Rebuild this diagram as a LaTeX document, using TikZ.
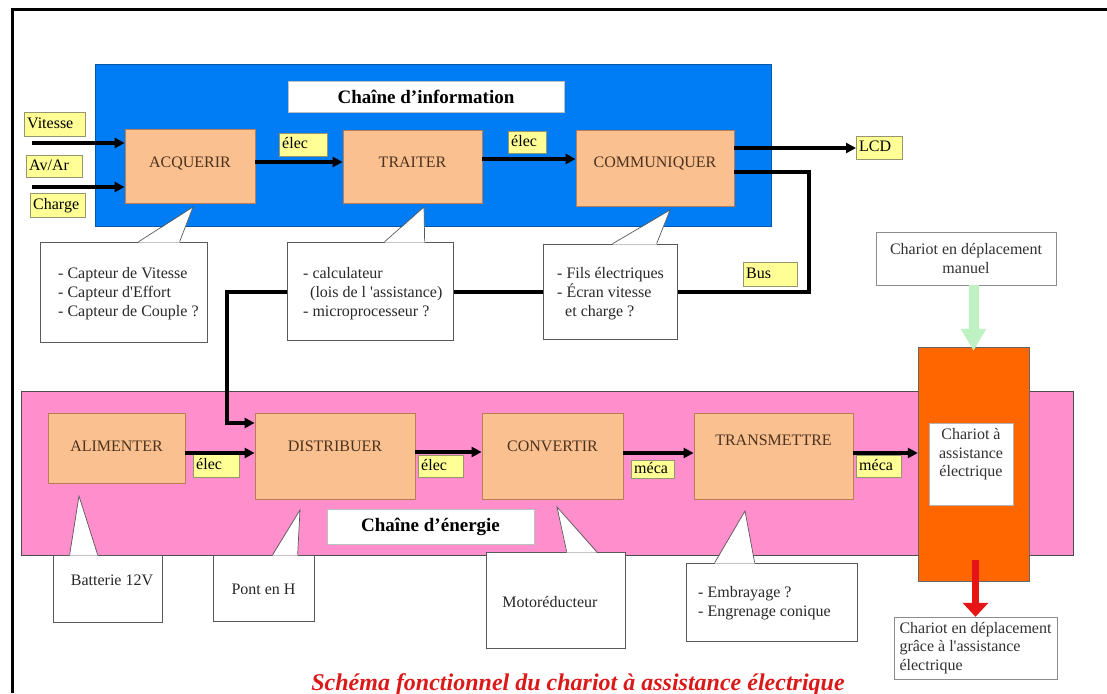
\documentclass[tikz,border=0pt]{standalone}
\usepackage{fontspec}
\setmainfont{Liberation Serif}
\usetikzlibrary{positioning, calc, arrows.meta}

\definecolor{infoblue}{RGB}{0,125,245}
\definecolor{energypink}{RGB}{255,143,204}
\definecolor{funcfill}{RGB}{250,192,143}
\definecolor{funcedge}{RGB}{185,125,85}
\definecolor{functext}{RGB}{75,50,30}
\definecolor{tagfill}{RGB}{255,255,150}
\definecolor{tagedge}{RGB}{150,150,110}
\definecolor{cartorange}{RGB}{255,102,0}
\definecolor{notetext}{RGB}{40,40,40}
\definecolor{boxtext}{RGB}{50,50,50}
\definecolor{redarrow}{RGB}{230,20,20}
\definecolor{greenarrow}{RGB}{190,242,195}
\definecolor{titlered}{RGB}{220,25,25}

\begin{document}
\begin{tikzpicture}[x=1pt, y=-1pt,
  every node/.style={font=\fontsize{16}{18.5}\selectfont},
  func/.style={draw=funcedge, fill=funcfill, text=functext, line width=0.8pt, text height=10.6pt},
  tag/.style={draw=tagedge, fill=tagfill, anchor=west, inner xsep=3pt, inner ysep=0pt, text height=11pt, text depth=3pt, align=left},
  header/.style={draw=black!25, fill=white, font=\bfseries\fontsize{19}{22}\selectfont},
  note/.style={draw=black!65, fill=white, line width=0.7pt},
  notetext/.style={align=left, inner sep=0pt, text=notetext, anchor=west, font=\fontsize{16}{19}\selectfont},
  flow/.style={line width=3.5pt, -{Triangle[length=10pt, width=10pt]}}]
\useasboundingbox (0,0) rectangle (1107,693);

% cadre
\draw[line width=3pt] (1107,10) -- (12,10) -- (12,693);

% les deux chaines
\draw[draw=infoblue!70!black, fill=infoblue, line width=0.5pt] (95,64) rectangle (771,226);
\draw[draw=black!70, fill=energypink, line width=0.6pt] (21,391) rectangle (1073,555);
\node[header, minimum width=276, minimum height=31] (infohead) at (426,97) {Chaîne d’information};
\node[header, minimum width=207, minimum height=35] (enerhead) at (430.5,527) {Chaîne d’énergie};

% chariot
\node[draw=black!60, fill=cartorange, minimum width=111, minimum height=234] (chariot) at (973.5,464) {};
\node[draw=black!30, fill=white, minimum width=84, minimum height=82] (chariotbox) at (971,464) {};
\node[align=center, text=boxtext] (chariottxt) at (971,454.5) {Chariot à\\assistance\\électrique};

% fonctions
\foreach \n/\x/\y/\w/\h/\d/\lbl in {acq/190/166/130/74/8/ACQUERIR, trait/412.5/166.5/139/73/9/TRAITER,
    comm/655/168/158/76/12/COMMUNIQUER, alim/116.5/448/137/70/4/ALIMENTER, dist/335/456/160/86/20/DISTRIBUER,
    conv/552.5/456/141/86/20/CONVERTIR, trans/773.5/456/159/86/32/TRANSMETTRE}
  \node[func, minimum width=\w, minimum height=\h, text depth=\d pt] (\n) at (\x,\y) {\lbl};

% etiquettes
\foreach \n/\x/\y/\w/\h/\lbl in {vit/24/124/55/24/Vitesse, avar/26/166/50/22/{Av/Ar}, chg/30/205/49/24/Charge,
    elecA/279/144.5/42/23/élec, elecB/508/142/32/22/élec, lcd/856/147.5/40/23/LCD, bus/743/274/48/24/Bus,
    elecC/193/465.5/40/23/élec, elecD/418/466/39/22/élec, mecaA/631/469/37/18/méca, mecaB/856/466/39/22/méca}
  \node[tag, text width=\w pt, minimum height=\h] (\n) at (\x,\y) {\lbl};

% liaisons
\coordinate (vitin) at (32,143);
\coordinate (avin) at (32,187);
\coordinate (busr) at (809,292);
\coordinate (busl) at (227,292);
\draw[flow] (vitin) -- (vitin -| acq.west);
\draw[flow] (avin) -- (avin -| acq.west);
\draw[flow] ([yshift=4pt]acq.east) coordinate (a1) -- (a1 -| trait.west);
\draw[flow] ([yshift=7.5pt]trait.east) coordinate (a2) -- (a2 -| comm.west);
\draw[flow] ([yshift=20pt]comm.east) coordinate (a3) -- (a3 -| lcd.west);
\draw[flow] ([yshift=-4pt]comm.east) -| (busr) -- (busl) |- ([yshift=33pt]dist.west);
\draw[flow] ([yshift=-5pt]alim.east) coordinate (e1) -- (e1 -| dist.west);
\draw[flow] ([yshift=4pt]dist.east) coordinate (e2) -- (e2 -| conv.west);
\draw[flow] ([yshift=3pt]conv.east) coordinate (e3) -- (e3 -| trans.west);
\draw[flow] ([yshift=3pt]trans.east) coordinate (e4) -- (e4 -| chariot.west);

% bulles
\foreach \n/\x/\y/\w/\h in {acqnote/123.5/292/167/100, traitnote/370/291/166/98, commnote/610/291.5/134/95,
    batnote/107.5/588.5/109/67, pontnote/263.5/588/101/66, motnote/555.5/600/139/96, transnote/771.5/602/171/78}
  \node[note, minimum width=\w, minimum height=\h] (\n) at (\x,\y) {};
\foreach \n/\l/\r/\tip in {acqnote/99/140/{193,207}, traitnote/98/138/{424,207}, commnote/70/114/{670,210},
    batnote/17/45/{79,496}, pontnote/60/85/{300,510}, motnote/81/111/{557,507}, transnote/29/69/{745,511}} {
  \fill[white] ($(\n.north west)+(\l,1)$) -- (\tip) -- ($(\n.north west)+(\r,1)$) -- cycle;
  \draw[black!65, line width=0.7pt] ($(\n.north west)+(\l,0)$) -- (\tip) -- ($(\n.north west)+(\r,0)$);
}
\node[notetext] (acqtxt) at (58,294) {- Capteur de Vitesse\\- Capteur d\textquotesingle Effort\\- Capteur de Couple ?};
\node[notetext] (traittxt) at (303,294) {- calculateur\\\hspace*{7pt}(lois de l \textquotesingle assistance)\\- microprocesseur ?};
\node[notetext] (commtxt) at (557,294) {- Fils électriques\\- Écran vitesse\\\hspace*{8pt}et charge ?};
\node[notetext, anchor=center] (battxt) at (112,580) {Batterie 12V};
\node[notetext, anchor=center] (ponttxt) at (263.5,589) {Pont en H};
\node[notetext, anchor=center] (mottxt) at (550,602) {Motoréducteur};
\node[notetext] (transtxt) at (698,603.5) {- Embrayage ?\\- Engrenage conique};

% deplacement du chariot
\node[draw=black!45, fill=white, minimum width=180, minimum height=53, align=center, text=boxtext] (manual) at (966,258.5) {Chariot en déplacement\\manuel};
\node[draw=black!45, fill=white, minimum width=163, minimum height=62, align=left, text=boxtext] (assist) at (975.5,648) {Chariot en déplacement\\grâce à l\textquotesingle assistance\\électrique};
\draw[greenarrow, line width=10pt, -{Triangle[length=22pt, width=24pt]}] (chariot.north |- manual.south) -- ([yshift=-4pt]chariot.north);
\draw[redarrow, line width=7pt, -{Triangle[length=14pt, width=25pt]}] ([xshift=2pt, yshift=21pt]chariot.south) coordinate (r0) -- (r0 |- assist.north);

\node[font=\bfseries\itshape\fontsize{24}{28}\selectfont, text=titlered, anchor=base] (title) at (578,690) {Schéma fonctionnel du chariot à assistance électrique};
\end{tikzpicture}
\end{document}
